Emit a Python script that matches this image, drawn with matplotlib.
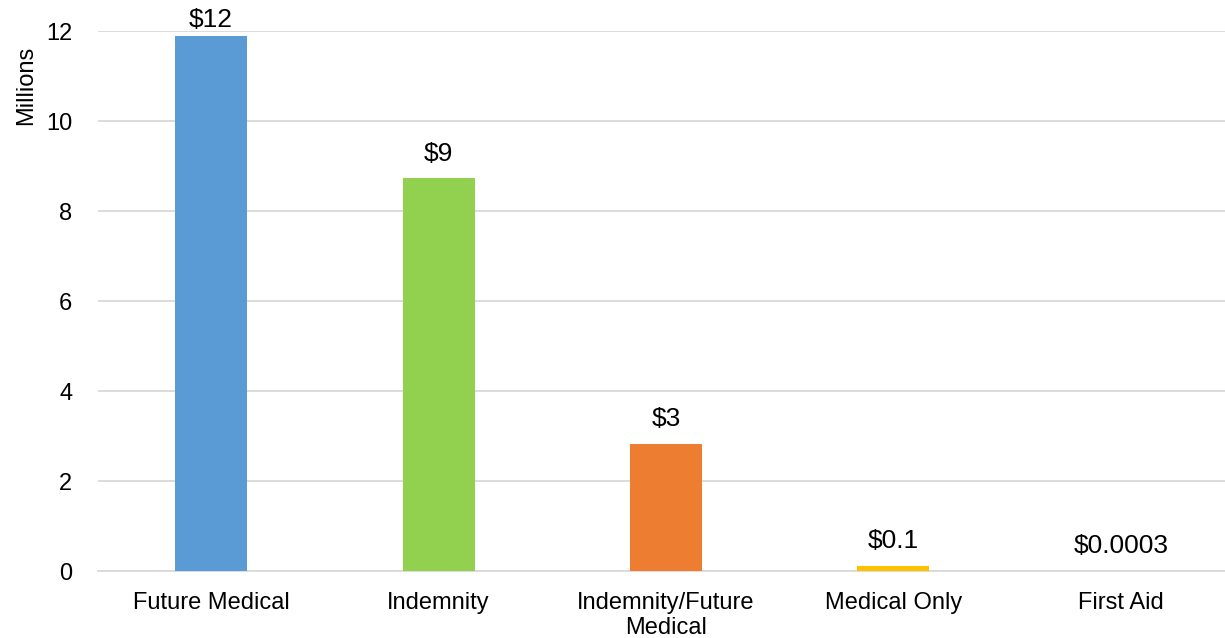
import matplotlib

matplotlib.use("Agg")
import matplotlib.pyplot as plt

plt.rcParams["font.family"] = ["Liberation Sans", "DejaVu Sans"]

categories = ["Future Medical", "Indemnity", "Indemnity/Future\nMedical", "Medical Only", "First Aid"]
values = [11.9, 8.73, 2.82, 0.12, 0.0003]
labels = ["$12", "$9", "$3", "$0.1", "$0.0003"]
colors = ["#5B9BD5", "#92D050", "#ED7D31", "#FFC000", "#A5A5A5"]

fig = plt.figure(figsize=(12.25, 6.38), dpi=100)
# plot area runs slightly past the right edge of the picture
ax = fig.add_axes([97.5 / 1225, 1 - 571 / 638, 1137 / 1225, 540 / 638])

x = range(len(categories))
bars = ax.bar(x, values, width=0.317, color=colors, zorder=3)

# data labels above bars, kept inside the chart area at the top
for bar, lab in zip(bars, labels):
    ax.text(
        bar.get_x() + bar.get_width() / 2,
        min(bar.get_height() + 0.28, 11.98),
        lab,
        ha="center",
        va="bottom",
        fontsize=19,
        color="#000000",
        zorder=4,
    )

ax.set_xlim(-0.5, len(categories) - 0.5)
ax.set_ylim(0, 12)
ax.set_yticks([0, 2, 4, 6, 8, 10, 12])
ax.set_xticks(list(x))
ax.set_xticklabels(categories, linespacing=1.2)
ax.tick_params(axis="both", length=0, labelsize=17, colors="#000000")
ax.tick_params(axis="y", pad=18)
ax.tick_params(axis="x", pad=15)

ax.grid(axis="y", color="#D9D9D9", linewidth=1.3, zorder=0)
for side in ["top", "right", "left"]:
    ax.spines[side].set_visible(False)
ax.spines["bottom"].set_color("#D9D9D9")
ax.spines["bottom"].set_linewidth(1.3)

ax.set_ylabel("Millions", fontsize=17)
ax.yaxis.set_label_coords(-0.053, 0.9)

fig.savefig("out.png", dpi=100, facecolor="white")
plt.close(fig)
